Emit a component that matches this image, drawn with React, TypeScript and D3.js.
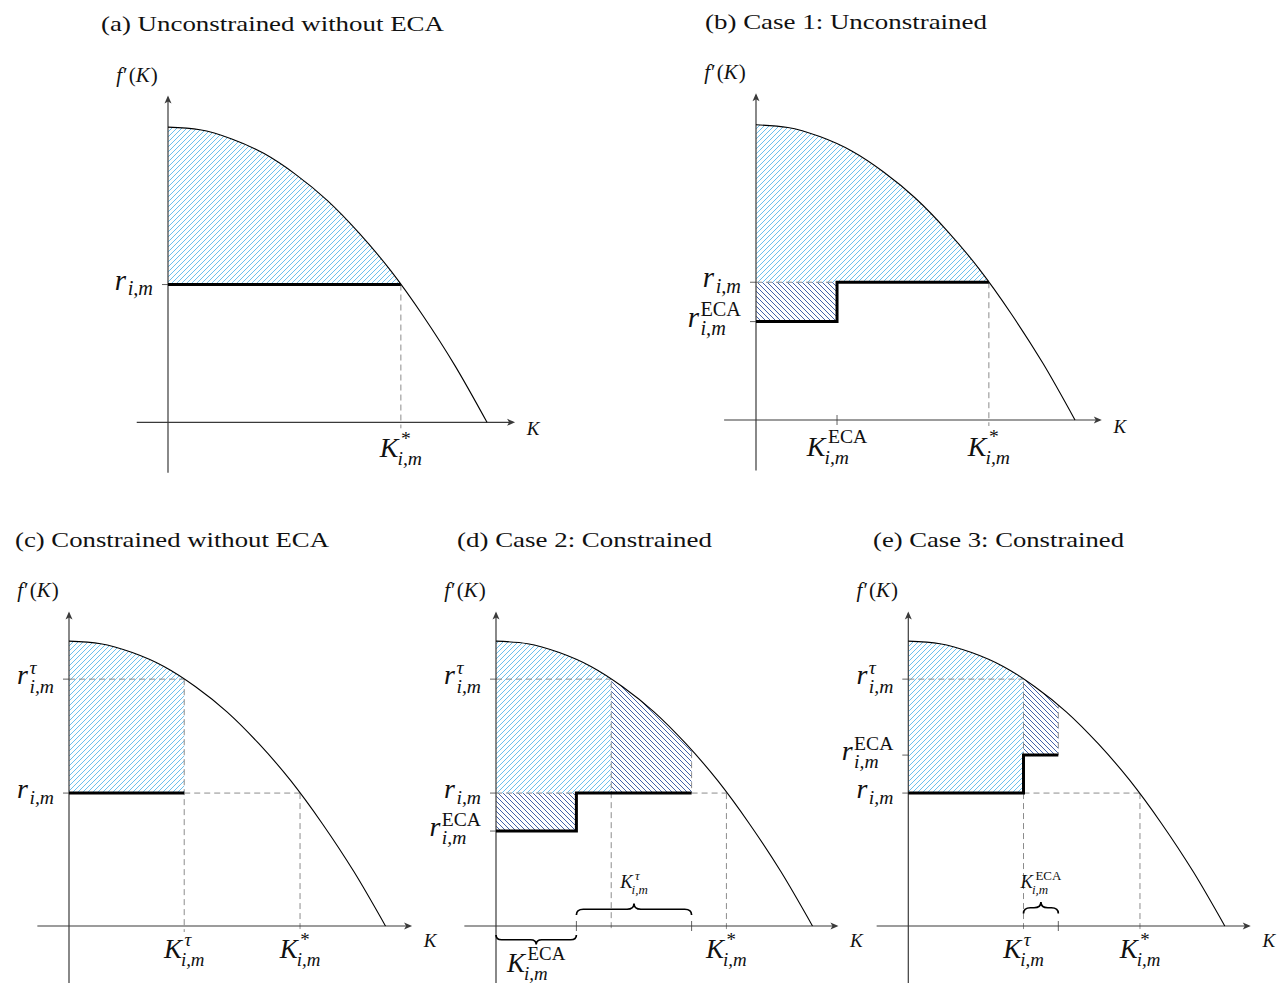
import React, { useLayoutEffect, useRef, useState } from "react";
import * as d3 from "d3";

// ---- Data (model units: curve root at K = 5) ----
const curveK = [0, 0.5, 1, 1.5, 2, 2.5, 3, 3.5, 4, 4.5, 5];
const curveF = [4.5, 4.46, 4.32, 4.1, 3.78, 3.38, 2.88, 2.3, 1.62, 0.86, 0];

const panelKeys = ["a", "b", "c", "d", "e"];
const panelTitles = [
  "(a) Unconstrained without ECA",
  "(b) Case 1: Unconstrained",
  "(c) Constrained without ECA",
  "(d) Case 2: Constrained",
  "(e) Case 3: Constrained",
];
const rValues = [2.1, 2.1, 2.1, 2.1, 2.1];
const rTauValues = [NaN, NaN, 3.9, 3.9, 3.9];
const rEcaValues = [NaN, 1.5, NaN, 1.5, 2.7];
const kStarValues = [3.65, 3.65, 3.65, 3.64, 3.66];
const kTauValues = [NaN, NaN, 1.82, 1.82, 1.82];
const kEcaValues = [NaN, 1.27, NaN, 1.27, 0.55];

// ---- Layout / style ----
const SERIF = "'Liberation Serif', 'Times New Roman', serif";
const LIGHT = "#52b5ea";
const DARK = "#24479a";
const DASH = "#8c8c8c";
const AXIS = "#3a3a3a";

type Layout = {
  ox: number; oy: number; ux: number; uy: number;
  xMin: number; xMax: number; yMin: number; yMax: number;
  titleX: number; titleY: number; titleW: number;
  kDy: number; big: number; rSize: number; tickDy: number;
};
const layouts: Layout[] = [
  { ox: 168, oy: 422.3, ux: 63.8, uy: 65.6, xMin: -0.49, xMax: 5.44, yMin: -0.77, yMax: 4.98, titleX: 101, titleY: 31, titleW: 343, kDy: 6.5, big: 28, rSize: 29, tickDy: 34.5 },
  { ox: 756, oy: 420, ux: 63.8, uy: 65.6, xMin: -0.5, xMax: 5.42, yMin: -0.77, yMax: 4.98, titleX: 705, titleY: 29, titleW: 282, kDy: 6.5, big: 28, rSize: 29, tickDy: 35.5 },
  { ox: 69, oy: 926, ux: 63.3, uy: 63.3, xMin: -0.5, xMax: 5.42, yMin: -0.95, yMax: 4.97, titleX: 15, titleY: 547, titleW: 314, kDy: 15, big: 27, rSize: 28, tickDy: 32 },
  { ox: 496, oy: 926, ux: 63.3, uy: 63.3, xMin: -0.5, xMax: 5.41, yMin: -0.95, yMax: 4.97, titleX: 457, titleY: 547, titleW: 255, kDy: 15, big: 27, rSize: 28, tickDy: 32 },
  { ox: 908.3, oy: 926, ux: 63.3, uy: 63.3, xMin: -0.5, xMax: 5.41, yMin: -0.95, yMax: 4.97, titleX: 873, titleY: 547, titleW: 251, kDy: 15, big: 27, rSize: 28, tickDy: 32 },
];

type MLProps = {
  x: number; y: number; base: string; sup?: string; sub?: string;
  size: number; anchor?: "start" | "middle" | "end"; supItalic?: boolean;
};

function MathLabel({ x, y, base, sup, sub, size, anchor = "middle", supItalic = false }: MLProps) {
  const bRef = useRef<SVGTextElement>(null);
  const pRef = useRef<SVGTextElement>(null);
  const sRef = useRef<SVGTextElement>(null);
  const [m, setM] = useState({ b: size * 0.6, p: 0, s: 0 });
  useLayoutEffect(() => {
    const b = bRef.current ? bRef.current.getComputedTextLength() : 0;
    const p = pRef.current ? pRef.current.getComputedTextLength() : 0;
    const s = sRef.current ? sRef.current.getComputedTextLength() : 0;
    if (Math.abs(b - m.b) > 0.1 || Math.abs(p - m.p) > 0.1 || Math.abs(s - m.s) > 0.1) setM({ b, p, s });
  });
  const ss = size * 0.7;
  const isK = base === "K";
  const supDx = isK ? 2.5 : 1.5;
  const subDx = isK ? -1 : 1.5;
  const total = m.b + Math.max(sup ? m.p + supDx : 0, sub ? m.s + subDx : 0);
  const left = anchor === "middle" ? x - total / 2 : anchor === "end" ? x - total : x;
  const supRaise = isK ? size * 0.43 : size * 0.37;
  const subDrop = sup ? size * 0.3 : size * 0.2;
  return (
    <g fill="#111" fontFamily={SERIF}>
      <text ref={bRef} x={left} y={y} fontSize={size} fontStyle="italic">{base}</text>
      {sup && (
        <text ref={pRef} x={left + m.b + supDx} y={y - supRaise} fontSize={ss} fontStyle={supItalic ? "italic" : "normal"}>{sup}</text>
      )}
      {sub && (
        <text ref={sRef} x={left + m.b + subDx} y={y + subDrop} fontSize={ss} fontStyle="italic">{sub}</text>
      )}
    </g>
  );
}

function bracePath(x1: number, x2: number, y: number, dir: number, amp: number) {
  const h = amp / 2;
  const xm = (x1 + x2) / 2;
  const r = Math.min(h * 1.2, (x2 - x1) / 4);
  const s = dir;
  return `M${x1},${y} Q${x1},${y + s * h} ${x1 + r},${y + s * h} L${xm - r},${y + s * h} Q${xm},${y + s * h} ${xm},${y + s * amp} Q${xm},${y + s * h} ${xm + r},${y + s * h} L${x2 - r},${y + s * h} Q${x2},${y + s * h} ${x2},${y}`;
}

function arrowHead(x: number, y: number, dir: "right" | "up") {
  if (dir === "right") return `M${x},${y} L${x - 8},${y - 3.5} L${x - 6},${y} L${x - 8},${y + 3.5} Z`;
  return `M${x},${y} L${x - 3.5},${y + 8} L${x},${y + 6} L${x + 3.5},${y + 8} Z`;
}

type Rect = { k1: number; k2: number; f1: number; f2: number; kind: "light" | "dark" };
type Seg = [number, number, number, number];

function Panel({ i }: { i: number }) {
  const L = layouts[i];
  const key = panelKeys[i];
  const x = d3.scaleLinear().domain([0, 1]).range([L.ox, L.ox + L.ux]);
  const y = d3.scaleLinear().domain([0, 1]).range([L.oy, L.oy - L.uy]);
  const pts: [number, number][] = curveK.map((k, j) => [k, curveF[j]]);
  const line = d3.line<[number, number]>().x((d) => x(d[0])).y((d) => y(d[1])).curve(d3.curveMonotoneX);
  const area = d3.area<[number, number]>().x((d) => x(d[0])).y0(y(-1.2)).y1((d) => y(d[1])).curve(d3.curveMonotoneX);

  const r = rValues[i], rt = rTauValues[i], re = rEcaValues[i];
  const ks = kStarValues[i], kt = kTauValues[i], ke = kEcaValues[i];
  const TOP = 4.8;
  const below = -6 / L.uy;

  let hatches: Rect[] = [];
  let dashes: Seg[] = [];
  let step: [number, number][] = [];
  let xTicks: number[] = [];
  let yTicks: number[] = [];
  const extras: React.ReactNode[] = [];
  const yLabels: { v: number; sup?: string; supItalic?: boolean }[] = [];
  const xLabels: { v: number; sup: string; supItalic?: boolean }[] = [];

  if (key === "a") {
    hatches = [{ k1: 0, k2: ks, f1: r, f2: TOP, kind: "light" }];
    dashes = [[ks, r, ks, below]];
    step = [[0, r], [ks, r]];
    yTicks = [r];
    yLabels.push({ v: r });
    xLabels.push({ v: ks, sup: "*" });
  } else if (key === "b") {
    hatches = [
      { k1: 0, k2: ks, f1: r, f2: TOP, kind: "light" },
      { k1: 0, k2: ke, f1: re, f2: r, kind: "dark" },
    ];
    dashes = [[0, r, ke, r], [ks, r, ks, below]];
    step = [[0, re], [ke, re], [ke, r], [ks, r]];
    yTicks = [r, re];
    xTicks = [ke];
    yLabels.push({ v: r }, { v: re, sup: "ECA" });
    xLabels.push({ v: ke, sup: "ECA" }, { v: ks, sup: "*" });
  } else if (key === "c") {
    hatches = [{ k1: 0, k2: kt, f1: r, f2: TOP, kind: "light" }];
    dashes = [[0, rt, kt, rt], [kt, rt, kt, below], [kt, r, ks, r], [ks, r, ks, below]];
    step = [[0, r], [kt, r]];
    yTicks = [rt, r];
    yLabels.push({ v: rt, sup: "τ", supItalic: true }, { v: r });
    xLabels.push({ v: kt, sup: "τ", supItalic: true }, { v: ks, sup: "*" });
  } else if (key === "d") {
    const kend = ke + kt;
    hatches = [
      { k1: 0, k2: kt, f1: r, f2: TOP, kind: "light" },
      { k1: kt, k2: kend, f1: r, f2: TOP, kind: "dark" },
      { k1: 0, k2: ke, f1: re, f2: r, kind: "dark" },
    ];
    dashes = [[0, rt, kt, rt], [kt, TOP, kt, below], [0, r, ke, r], [kend, TOP, kend, r], [kend, r, ks, r], [ks, r, ks, below]];
    step = [[0, re], [ke, re], [ke, r], [kend, r]];
    yTicks = [rt, r, re];
    xTicks = [ke, kend];
    yLabels.push({ v: rt, sup: "τ", supItalic: true }, { v: r }, { v: re, sup: "ECA" });
    xLabels.push({ v: ks, sup: "*" });
    extras.push(
      <path key="b1" d={bracePath(x(0), x(ke), L.oy + 9, 1, 9.5)} fill="none" stroke="#000" strokeWidth={1.7} />,
      <path key="b2" d={bracePath(x(ke), x(kend), L.oy - 11, -1, 11.5)} fill="none" stroke="#000" strokeWidth={1.7} />,
      <MathLabel key="l1" x={(x(0) + x(ke)) / 2} y={L.oy + 46} base="K" sup="ECA" sub="i,m" size={L.big} />,
      <MathLabel key="l2" x={(x(ke) + x(kend)) / 2} y={L.oy - 38} base="K" sup="τ" supItalic sub="i,m" size={18.5} />
    );
  } else if (key === "e") {
    const kend = kt + ke;
    hatches = [
      { k1: 0, k2: kt, f1: r, f2: TOP, kind: "light" },
      { k1: kt, k2: kend, f1: re, f2: TOP, kind: "dark" },
    ];
    dashes = [[0, rt, kt, rt], [kt, TOP, kt, re], [kt, r, kt, below], [kend, TOP, kend, re], [kt, r, ks, r], [ks, r, ks, below]];
    step = [[0, r], [kt, r], [kt, re], [kend, re]];
    yTicks = [rt, re, r];
    xTicks = [kend];
    yLabels.push({ v: rt, sup: "τ", supItalic: true }, { v: re, sup: "ECA" }, { v: r });
    xLabels.push({ v: kt, sup: "τ", supItalic: true }, { v: ks, sup: "*" });
    extras.push(
      <path key="b1" d={bracePath(x(kt), x(kend), L.oy - 12.5, -1, 11.5)} fill="none" stroke="#000" strokeWidth={1.7} />,
      <MathLabel key="l1" x={(x(kt) + x(kend)) / 2} y={L.oy - 38} base="K" sup="ECA" sub="i,m" size={18.5} />
    );
  }

  const clipId = `clip-${key}`;
  const xEnd = x(L.xMax);
  const yTop = y(L.yMax);

  return (
    <g>
      <defs>
        <clipPath id={clipId}>
          <path d={area(pts) || ""} />
        </clipPath>
      </defs>
      <text x={L.titleX} y={L.titleY} fontFamily={SERIF} fontSize={22} fill="#111" textLength={L.titleW} lengthAdjust="spacingAndGlyphs">
        {panelTitles[i]}
      </text>
      <g clipPath={`url(#${clipId})`}>
        {hatches.map((h, j) => (
          <rect key={j} x={x(h.k1)} y={y(h.f2)} width={x(h.k2) - x(h.k1)} height={y(h.f1) - y(h.f2)}
            fill={h.kind === "light" ? "url(#hatchLight)" : "url(#hatchDark)"} />
        ))}
        {dashes.map((s, j) => (
          <line key={j} x1={x(s[0])} y1={y(s[1])} x2={x(s[2])} y2={y(s[3])} stroke={DASH} strokeWidth={1} strokeDasharray="6,4" />
        ))}
      </g>
      {/* axes */}
      <line x1={x(L.xMin)} y1={L.oy} x2={xEnd - 2} y2={L.oy} stroke={AXIS} strokeWidth={1.2} />
      <path d={arrowHead(xEnd, L.oy, "right")} fill={AXIS} />
      <line x1={L.ox} y1={y(L.yMin)} x2={L.ox} y2={yTop + 2} stroke={AXIS} strokeWidth={1.2} />
      <path d={arrowHead(L.ox, yTop, "up")} fill={AXIS} />
      {xTicks.map((k, j) => (
        <line key={j} x1={x(k)} y1={L.oy - 5} x2={x(k)} y2={L.oy + 5} stroke={AXIS} strokeWidth={0.8} />
      ))}
      {yTicks.map((v, j) => (
        <line key={j} x1={L.ox - 6} y1={y(v)} x2={L.ox} y2={y(v)} stroke={AXIS} strokeWidth={0.8} />
      ))}
      {/* curve */}
      <path d={line(pts) || ""} fill="none" stroke="#000" strokeWidth={1.1} />
      {/* step */}
      <path d={d3.line<[number, number]>().x((d) => x(d[0])).y((d) => y(d[1]))(step) || ""} fill="none" stroke="#000" strokeWidth={3} strokeLinejoin="miter" />
      {extras}
      {/* axis labels */}
      <text x={L.ox - 31} y={yTop - 14} fontFamily={SERIF} fontSize={21} textAnchor="middle" fill="#111">
        <tspan fontStyle="italic">f</tspan>
        <tspan dx={1}>′</tspan>
        <tspan dx={1}>(</tspan>
        <tspan fontStyle="italic">K</tspan>
        <tspan dx={1}>)</tspan>
      </text>
      <text x={xEnd + 18} y={L.oy + L.kDy + 6} fontFamily={SERIF} fontSize={19} fontStyle="italic" textAnchor="middle" fill="#111">K</text>
      {yLabels.map((lb, j) => (
        <MathLabel key={`y${j}`} x={L.ox - 15} y={y(lb.v) + 5} base="r" sup={lb.sup} supItalic={lb.supItalic} sub="i,m" size={L.rSize} anchor="end" />
      ))}
      {xLabels.map((lb, j) => (
        <MathLabel key={`x${j}`} x={x(lb.v)} y={L.oy + L.tickDy} base="K" sup={lb.sup} supItalic={lb.supItalic} sub="i,m" size={L.big} />
      ))}
    </g>
  );
}

export default function App() {
  return (
    <svg width={1280} height={983} style={{ position: "absolute", left: 0, top: 0, background: "#fff" }}>
      <defs>
        <pattern id="hatchLight" patternUnits="userSpaceOnUse" width={5} height={5}>
          <path d="M0,5 L5,0 M-1,1 L1,-1 M4,6 L6,4" stroke={LIGHT} strokeWidth={0.85} />
        </pattern>
        <pattern id="hatchDark" patternUnits="userSpaceOnUse" width={5} height={5}>
          <path d="M0,0 L5,5 M-1,4 L1,6 M4,-1 L6,1" stroke={DARK} strokeWidth={0.85} />
        </pattern>
      </defs>
      <rect x={0} y={0} width={1280} height={983} fill="#fff" />
      {panelKeys.map((k, i) => (
        <Panel key={k} i={i} />
      ))}
    </svg>
  );
}
